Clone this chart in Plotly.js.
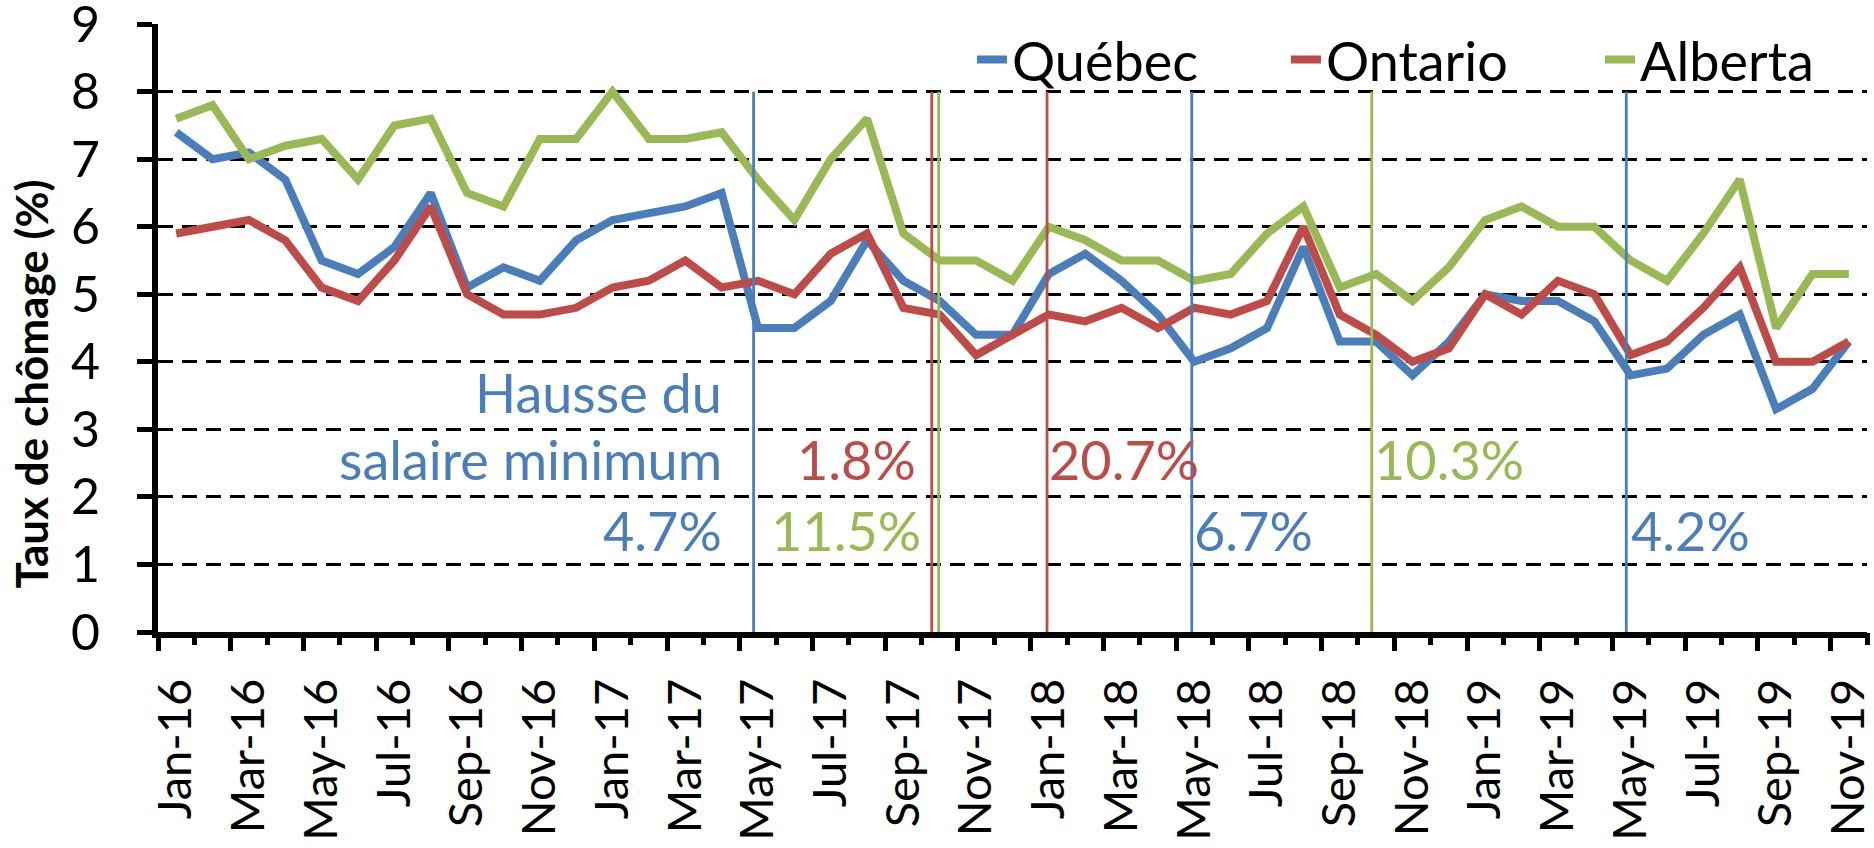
<!DOCTYPE html>
<html><head><meta charset="utf-8">
<script src="https://cdn.plot.ly/plotly-3.0.1.min.js"></script>
<style>html,body{margin:0;padding:0;background:#fff}#chart{width:1874px;height:848px}</style>
</head><body><div id="chart"></div>
<script>
// ---- data ----
const months = ['Jan-16','Feb-16','Mar-16','Apr-16','May-16','Jun-16','Jul-16','Aug-16','Sep-16','Oct-16','Nov-16','Dec-16',
  'Jan-17','Feb-17','Mar-17','Apr-17','May-17','Jun-17','Jul-17','Aug-17','Sep-17','Oct-17','Nov-17','Dec-17',
  'Jan-18','Feb-18','Mar-18','Apr-18','May-18','Jun-18','Jul-18','Aug-18','Sep-18','Oct-18','Nov-18','Dec-18',
  'Jan-19','Feb-19','Mar-19','Apr-19','May-19','Jun-19','Jul-19','Aug-19','Sep-19','Oct-19','Nov-19'];
const quebec  = [7.4,7.0,7.1,6.7,5.5,5.3,5.7,6.5,5.1,5.4,5.2,5.8,
                 6.1,6.2,6.3,6.5,4.5,4.5,4.9,5.8,5.2,4.9,4.4,4.4,
                 5.3,5.6,5.2,4.7,4.0,4.2,4.5,5.7,4.3,4.3,3.8,4.3,
                 5.0,4.9,4.9,4.6,3.8,3.9,4.4,4.7,3.3,3.6,4.3];
const ontario = [5.9,6.0,6.1,5.8,5.1,4.9,5.5,6.3,5.0,4.7,4.7,4.8,
                 5.1,5.2,5.5,5.1,5.2,5.0,5.6,5.9,4.8,4.7,4.1,4.4,
                 4.7,4.6,4.8,4.5,4.8,4.7,4.9,6.0,4.7,4.4,4.0,4.2,
                 5.0,4.7,5.2,5.0,4.1,4.3,4.8,5.4,4.0,4.0,4.3];
const alberta = [7.6,7.8,7.0,7.2,7.3,6.7,7.5,7.6,6.5,6.3,7.3,7.3,
                 8.0,7.3,7.3,7.4,6.7,6.1,7.0,7.6,5.9,5.5,5.5,5.2,
                 6.0,5.8,5.5,5.5,5.2,5.3,5.9,6.3,5.1,5.3,4.9,5.4,
                 6.1,6.3,6.0,6.0,5.5,5.2,5.9,6.7,4.5,5.3,5.3];
const seriesNames = ['Québec','Ontario','Alberta'];
// minimum-wage hikes: position on month axis (index units), province, label
const hikeX     = [15.88, 20.78, 20.97, 23.95, 27.93, 32.88, 39.88];
const hikeProv  = [0, 1, 2, 1, 0, 2, 0];
const hikeLabel = ['4.7%', '1.8%', '11.5%', '20.7%', '6.7%', '10.3%', '4.2%'];
const hikeTop = 8;
const yTicks = [0,1,2,3,4,5,6,7,8,9];

// ---- style ----
const COLORS = ['#4A7EBB', '#BE4B48', '#98B954'];
const FONT = 'Lato, "Open Sans", sans-serif';
const LEGEND_IDS = ['legend', 'legend2', 'legend3'];
const LEGEND_X = [0.4763, 0.660, 0.8438];

const idx = months.map((m, i) => i);
const traces = [quebec, ontario, alberta].map((vals, s) => ({
  type: 'scatter', mode: 'lines', x: idx, y: vals, name: seriesNames[s], legend: LEGEND_IDS[s],
  line: {color: COLORS[s], width: 8}, xaxis: 'x', yaxis: 'y', hoverinfo: 'skip'
}));
hikeX.forEach((hx, k) => {
  traces.push({type: 'scatter', mode: 'lines', x: [hx, hx], y: [0, hikeTop], showlegend: false,
    line: {color: COLORS[hikeProv[k]], width: 2.8}, xaxis: 'x2', yaxis: 'y', hoverinfo: 'skip'});
});

// tick positions
const labelVals = idx.filter(i => i % 2 === 0);
const labelText = labelVals.map(i => months[i]);
const longTicks = [], shortTicks = [];
for (let b = -0.5; b <= months.length - 0.5; b += 1) {
  (Math.round(b + 0.5) % 2 === 0 ? longTicks : shortTicks).push(b);
}

const annFont = (c) => ({family: FONT, size: 54, color: c});
const annotations = [];
const rowY = [3.55, 2.55, 1.5];
annotations.push({x: hikeX[0], y: rowY[0], xref: 'x2', yref: 'y', text: 'Hausse du', showarrow: false,
  xanchor: 'right', yanchor: 'middle', xshift: -30, font: annFont(COLORS[0])});
annotations.push({x: hikeX[0], y: rowY[1], xref: 'x2', yref: 'y', text: 'salaire minimum', showarrow: false,
  xanchor: 'right', yanchor: 'middle', xshift: -30, font: annFont(COLORS[0])});
const annSpec = [
  {k: 0, row: 2, side: 'right', shift: -30},
  {k: 1, row: 1, side: 'right', shift: -14},
  {k: 2, row: 2, side: 'right', shift: -16},
  {k: 3, row: 1, side: 'left', shift: 0},
  {k: 4, row: 2, side: 'left', shift: 0},
  {k: 5, row: 1, side: 'left', shift: 0},
  {k: 6, row: 2, side: 'left', shift: 3}
];
annSpec.forEach(a => {
  annotations.push({x: hikeX[a.k], y: rowY[a.row], xref: 'x2', yref: 'y', text: hikeLabel[a.k], showarrow: false,
    xanchor: a.side, yanchor: 'middle', xshift: a.shift, font: annFont(COLORS[hikeProv[a.k]])});
});
annotations.push({xref: 'paper', yref: 'paper', x: 0, y: 0.407, xshift: -127, text: '<b>Taux de chômage (%)</b>',
  textangle: -90, showarrow: false, xanchor: 'center', yanchor: 'middle',
  font: {family: FONT, size: 44, color: '#000'}});

const layout = {
  width: 1874, height: 848,
  margin: {l: 158, r: 7, t: 24, b: 216, pad: 0},
  paper_bgcolor: '#fff', plot_bgcolor: '#fff',
  font: {family: FONT, color: '#000'},
  showlegend: true,
  xaxis: {
    range: [-0.5, months.length - 0.5], tickmode: 'array', tickvals: labelVals, ticktext: labelText,
    tickangle: -90, ticks: '', showgrid: false, zeroline: false,
    showline: true, linecolor: '#000', linewidth: 6, ticklabeloverflow: 'allow',
    tickfont: {family: FONT, size: 47, color: '#000'}, ticklabelstandoff: 22
  },
  xaxis2: {
    overlaying: 'x', anchor: 'y', side: 'bottom', range: [-0.5, months.length - 0.5],
    tickmode: 'array', tickvals: longTicks, ticktext: longTicks.map(() => ''),
    ticks: 'outside', ticklen: 18, tickwidth: 5, tickcolor: '#000',
    showticklabels: false, showgrid: false, zeroline: false, showline: false,
    minor: {tickmode: 'array', tickvals: shortTicks, ticks: 'outside', ticklen: 12, tickwidth: 5, tickcolor: '#000', showgrid: false}
  },
  yaxis: {
    range: [0, 9.002], tickmode: 'array', tickvals: yTicks, ticks: 'outside', ticklen: 15, tickwidth: 5, tickcolor: '#000',
    showline: true, linecolor: '#000', linewidth: 6, zeroline: false, ticklabeloverflow: 'allow',
    showgrid: true, gridcolor: '#000', gridwidth: 3, griddash: '15px,9px',
    tickfont: {family: FONT, size: 50, color: '#000'}, ticklabelstandoff: 27
  },
  annotations: annotations
};
LEGEND_IDS.forEach((id, s) => {
  layout[id] = {orientation: 'h', x: LEGEND_X[s], y: 0.941, xanchor: 'left', yanchor: 'middle',
    font: {family: FONT, size: 54, color: '#000'}, bgcolor: 'rgba(0,0,0,0)', itemclick: false};
});

Plotly.newPlot('chart', traces, layout, {staticPlot: true, displayModeBar: false});
</script>
</body></html>
